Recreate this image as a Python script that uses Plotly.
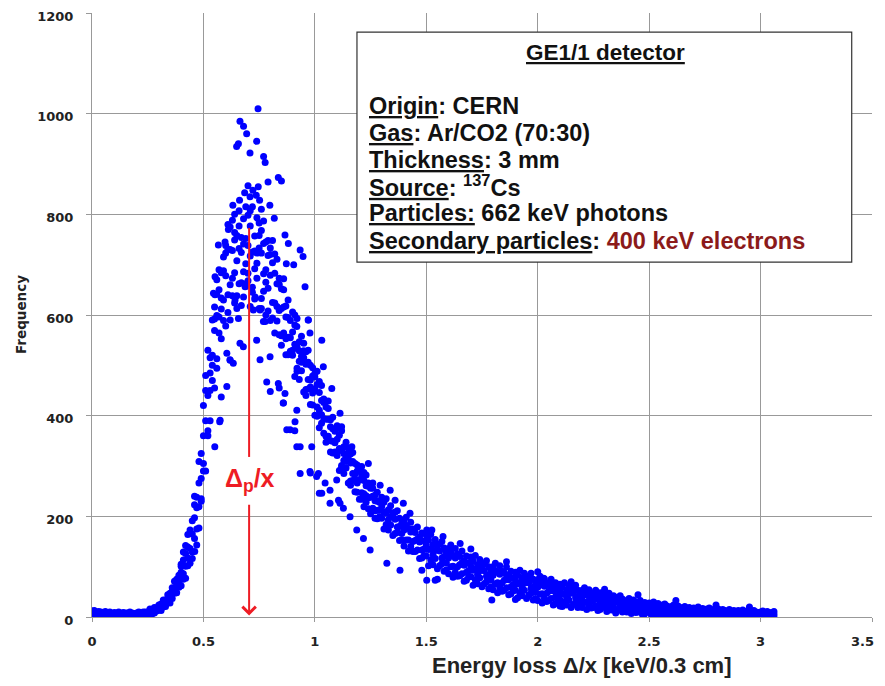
import plotly.graph_objects as go

# ---------------- data ----------------
energy = [
 0.00,0.01,0.02,0.03,0.04,0.05,0.06,0.07,0.08,0.09,
 0.10,0.11,0.12,0.13,0.14,0.15,0.16,0.17,0.18,0.19,
 0.20,0.21,0.22,0.23,0.24,0.25,0.26,0.27,0.28,0.29,
 0.30,0.31,0.32,0.33,0.34,0.35,0.36,0.37,0.38,0.39,
 0.40,0.41,0.42,0.43,0.44,0.45,0.46,0.47,0.48,0.49,
 0.50,0.51,0.52,0.53,0.54,0.55,0.56,0.57,0.58,0.59,
 0.60,0.61,0.62,0.63,0.64,0.65,0.66,0.67,0.68,0.69,
 0.70,0.71,0.72,0.73,0.74,0.75,0.76,0.77,0.78,0.79,
 0.80,0.81,0.82,0.83,0.84,0.85,0.86,0.87,0.88,0.89,
 0.90,0.91,0.92,0.93,0.94,0.95,0.96,0.97,0.98,0.99,
 1.00,1.01,1.02,1.03,1.04,1.05,1.06,1.07,1.08,1.09,
 1.10,1.11,1.12,1.13,1.14,1.15,1.16,1.17,1.18,1.19,
 1.20,1.21,1.22,1.23,1.24,1.25,1.26,1.27,1.28,1.29,
 1.30,1.31,1.32,1.33,1.34,1.35,1.36,1.37,1.38,1.39,
 1.40,1.41,1.42,1.43,1.44,1.45,1.46,1.47,1.48,1.49,
 1.50,1.51,1.52,1.53,1.54,1.55,1.56,1.57,1.58,1.59,
 1.60,1.61,1.62,1.63,1.64,1.65,1.66,1.67,1.68,1.69,
 1.70,1.71,1.72,1.73,1.74,1.75,1.76,1.77,1.78,1.79,
 1.80,1.81,1.82,1.83,1.84,1.85,1.86,1.87,1.88,1.89,
 1.90,1.91,1.92,1.93,1.94,1.95,1.96,1.97,1.98,1.99,
 2.00,2.01,2.02,2.03,2.04,2.05,2.06,2.07,2.08,2.09,
 2.10,2.11,2.12,2.13,2.14,2.15,2.16,2.17,2.18,2.19,
 2.20,2.21,2.22,2.23,2.24,2.25,2.26,2.27,2.28,2.29,
 2.30,2.31,2.32,2.33,2.34,2.35,2.36,2.37,2.38,2.39,
 2.40,2.41,2.42,2.43,2.44,2.45,2.46,2.47,2.48,2.49,
 2.50,2.51,2.52,2.53,2.54,2.55,2.56,2.57,2.58,2.59,
 2.60,2.61,2.62,2.63,2.64,2.65,2.66,2.67,2.68,2.69,
 2.70,2.71,2.72,2.73,2.74,2.75,2.76,2.77,2.78,2.79,
 2.80,2.81,2.82,2.83,2.84,2.85,2.86,2.87,2.88,2.89,
 2.90,2.91,2.92,2.93,2.94,2.95,2.96,2.97,2.98,2.99,
 3.00,3.01,3.02,3.03,3.04,3.05,3.06,
]

freq_low = [
 4,6,3,4,6,3,7,1,4,7,
 3,0,5,1,3,8,2,4,1,7,
 1,3,0,3,6,4,11,6,12,18,
 14,13,26,21,30,47,37,53,48,83,
 62,86,77,102,136,129,197,143,219,325,
 290,290,440,390,470,592,513,596,553,688,
 578,640,590,638,684,638,732,619,686,752,
 668,617,725,632,673,758,633,682,600,718,
 589,625,564,588,609,559,616,521,556,589,
 520,478,537,472,489,529,452,472,422,479,
 401,417,376,385,394,359,393,328,349,369,
 321,291,331,285,296,326,270,285,249,290,
 234,247,219,228,237,213,240,196,212,228,
 196,175,206,173,183,207,166,179,152,186,
 141,153,131,140,150,130,155,116,133,151,
 121,102,135,104,116,143,102,117,91,129,
 86,100,79,89,100,82,108,71,89,108,
 80,63,95,66,78,104,66,81,56,93,
 54,66,48,59,68,53,78,44,60,78,
 53,38,68,42,53,77,43,57,34,68,
 33,45,28,37,47,33,55,24,40,56,
 34,21,46,24,34,54,25,38,19,48,
 19,29,15,22,31,19,37,13,26,38,
 21,11,31,14,21,37,14,23,10,31,
 10,16,7,12,18,10,22,5,14,23,
 11,4,18,6,11,22,6,13,3,19,
 3,9,2,5,10,4,13,1,8,14,
 5,0,11,2,6,14,3,8,1,12,
 1,5,0,3,6,1,9,0,5,10,
 4,0,8,1,4,10,1,5,0,9,
 1,4,0,2,4,1,6,
]

freq_mid = [
 10,10,6,8,10,7,3,8,2,4,
 9,5,2,7,6,1,6,3,8,4,
 6,8,4,8,10,8,7,14,8,15,
 24,21,20,34,36,28,51,47,75,69,
 89,113,101,139,173,165,156,238,177,275,
 420,390,370,515,520,455,599,564,684,630,
 678,730,660,728,764,708,662,754,636,702,
 798,717,655,757,723,613,723,647,745,653,
 679,704,624,662,673,613,564,618,521,555,
 606,542,494,547,518,447,502,453,500,445,
 453,462,411,430,433,393,359,392,326,346,
 380,335,301,338,317,266,306,271,305,266,
 272,280,245,261,266,238,216,242,195,212,
 238,208,184,213,199,162,194,168,196,166,
 173,182,153,169,175,152,133,159,117,135,
 163,134,113,144,132,96,131,106,137,108,
 117,128,101,117,125,104,86,112,73,92,
 119,93,74,104,92,60,92,70,100,74,
 83,92,68,85,91,73,58,83,46,64,
 89,66,48,77,67,37,68,47,75,50,
 59,68,46,61,68,51,37,59,27,43,
 65,45,30,54,46,19,47,29,53,32,
 40,47,30,41,48,34,22,41,15,28,
 44,29,18,36,30,11,30,17,36,20,
 24,29,17,25,30,20,11,25,6,16,
 28,17,9,22,18,3,18,8,22,11,
 14,18,10,15,19,12,6,15,2,8,
 18,10,4,14,10,0,11,5,15,6,
 9,12,6,10,13,7,3,10,1,6,
 13,7,3,10,7,0,8,3,10,4,
 7,9,4,8,9,5,2,
]

freq_high = [
 12,13,10,11,3,9,11,6,10,2,
 6,8,10,4,9,6,8,10,5,2,
 8,10,7,10,3,10,16,13,19,12,
 19,26,34,27,44,44,58,71,65,59,
 105,129,126,164,107,191,240,217,309,235,
 360,450,530,450,590,569,641,690,634,589,
 738,780,730,788,624,758,807,724,791,662,
 738,777,815,692,793,733,768,787,690,608,
 733,748,683,711,561,652,672,596,630,528,
 566,580,593,508,558,515,527,530,471,421,
 484,488,446,460,365,417,429,378,397,328,
 353,361,370,311,347,315,324,327,284,248,
 295,299,271,282,215,256,266,231,248,199,
 219,228,235,193,221,199,208,211,180,153,
 192,198,176,188,130,168,179,149,167,122,
 143,153,164,124,154,135,145,150,120,94,
 136,143,122,136,81,120,131,103,121,80,
 101,111,122,84,114,96,106,112,84,60,
 100,107,89,102,51,88,100,74,91,52,
 73,83,93,58,87,70,81,87,59,37,
 74,81,64,76,31,64,75,52,68,33,
 51,59,68,38,62,48,58,63,40,21,
 53,58,44,54,18,44,53,35,48,19,
 34,40,47,24,42,32,39,42,26,11,
 33,37,28,34,9,27,33,20,29,10,
 21,25,30,13,27,19,24,26,15,5,
 21,24,17,22,3,17,21,12,19,4,
 12,16,20,8,17,12,16,18,10,1,
 14,16,11,15,2,11,15,8,13,3,
 8,11,14,6,12,8,11,13,6,1,
 10,12,8,11,0,8,11,
]

# extra readings in the dense rising / peak / falling part (energy 0.40 - 1.29)
extra_energy = energy[40:130]
freq_extra = [
 101,75,142,117,166,116,223,175,266,230,
 305,480,360,485,500,616,494,650,612,715,
 723,605,775,673,749,613,777,664,741,657,
 683,807,645,727,703,783,613,742,665,748,
 720,594,721,617,661,540,650,553,595,524,
 530,600,488,529,506,544,440,506,457,495,
 477,399,468,402,426,347,414,350,374,326,
 328,375,297,325,309,336,262,309,274,302,
 289,234,287,241,260,205,256,211,230,197,
]

# scattered outlying points
scatter_x = [
 0.745,0.664,0.680,0.694,0.649,0.657,0.739,0.709,0.770,0.777,
 0.836,0.850,0.790,0.700,0.746,0.709,0.737,0.722,0.685,0.662,
 0.632,0.752,0.798,0.818,0.866,0.881,0.934,0.947,0.956,0.970,
 0.919,0.905,0.872,0.597,0.612,0.640,0.690,0.760,
 0.560,0.552,0.567,0.545,0.552,0.642,0.657,0.754,0.777,0.687,
 0.732,0.724,0.769,0.664,0.679,0.739,0.754,0.799,0.619,0.605,
 0.634,0.784,0.836,0.840,0.866,0.859,0.575,0.580,0.605,0.620,
 0.800,0.858,0.874,0.919,0.889,0.910,0.919,0.934,0.980,1.020,
 1.008,0.911,0.934,0.986,0.978,1.016,1.046,1.031,1.068,1.106,
 1.128,1.098,1.113,1.068,1.158,1.188,1.218,1.248,1.323,1.382,
 1.502,1.550,1.540,1.480,1.794,2.026,2.070,0.573,0.551,0.461,
 0.971,0.978,1.031,1.038,1.076,1.113,1.120,1.166,1.240,1.293,
 1.338,1.360,1.397,1.427,1.502,1.525,1.575,1.652,1.700,1.860,
 2.000,2.150,2.300,2.450,2.620,2.800,2.950,1.900,2.100,2.350,
]
scatter_y = [
 1010,985,975,960,935,940,945,922,915,903,
 873,866,864,857,855,835,838,848,843,828,
 818,828,818,792,759,742,729,716,656,590,
 577,700,702,745,770,800,815,810,
 670,640,739,643,676,630,593,610,587,656,
 636,610,587,544,537,550,511,517,511,524,
 504,467,464,455,444,425,391,437,458,510,
 448,425,372,411,372,370,338,285,286,246,
 279,388,338,338,289,285,266,246,252,232,
 216,272,226,226,199,173,156,133,107,93,
 73,75,73,93,34,77,67,388,338,130,
 590,564,550,497,454,405,378,338,305,262,
 252,232,226,206,173,173,160,146,135,110,
 90,70,55,44,33,24,20,35,22,8,
]

# most probable energy loss marker
most_probable_x = 0.705
most_probable_top = 773

x_ticks = [0, 0.5, 1, 1.5, 2, 2.5, 3, 3.5]
x_tick_labels = ["0", "0.5", "1", "1.5", "2", "2.5", "3", "3.5"]
y_ticks = [0, 200, 400, 600, 800, 1000, 1200]
y_tick_labels = ["0", "200", "400", "600", "800", "1000", "1200"]

# ---------------- figure ----------------
all_x = energy + energy + energy + extra_energy + scatter_x
all_y = freq_low + freq_mid + freq_high + freq_extra + scatter_y

fig = go.Figure()
fig.add_trace(go.Scatter(
    x=all_x, y=all_y, mode="markers",
    marker=dict(color="#0000ff", size=7, symbol="circle", line=dict(width=0)),
    showlegend=False, hoverinfo="x+y",
))

grid = "#999999"
tick_font = dict(family="DejaVu Sans", size=13, color="#222222", weight="bold")

# the last x label sits at the window edge; it is drawn separately so that it stays inside
shown_x_labels = x_tick_labels[:-1] + [""]

# the page body adds an 8 px margin, so the figure is kept inside the window
fig.update_layout(
    width=869, height=670,
    margin=dict(l=84, r=5, t=5, b=61, autoexpand=False),
    paper_bgcolor="white", plot_bgcolor="white",
    font=dict(family="Liberation Sans, Arial", color="#222222"),
    xaxis=dict(range=[0, 3.5], tickvals=x_ticks, ticktext=shown_x_labels,
               showgrid=True, gridcolor=grid, gridwidth=1, automargin=False,
               showline=True, linecolor=grid, linewidth=1, zeroline=False,
               ticks="outside", ticklen=4, tickcolor=grid,
               tickfont=tick_font, ticklabelstandoff=8, ticklabeloverflow="allow"),
    yaxis=dict(range=[0, 1200], tickvals=y_ticks, ticktext=y_tick_labels,
               showgrid=True, gridcolor=grid, gridwidth=1, automargin=False,
               showline=True, linecolor=grid, linewidth=1, zeroline=False,
               ticks="outside", ticklen=5, tickcolor=grid,
               tickfont=tick_font, ticklabelstandoff=10, ticklabelshift=3,
               ticklabeloverflow="allow"),
)

fig.add_annotation(xref="paper", yref="paper", x=1, y=0, xshift=4, yshift=-24,
                   text="<b>" + x_tick_labels[-1] + "</b>", showarrow=False,
                   xanchor="right", yanchor="middle",
                   font=dict(family="DejaVu Sans", size=13, color="#222222"))

# axis titles
fig.add_annotation(xref="paper", yref="paper", x=0.628, y=-0.081,
                   text="<b>Energy loss Δ/x [keV/0.3 cm]</b>", showarrow=False,
                   xanchor="center", yanchor="middle",
                   font=dict(family="Liberation Sans, Arial", size=22, color="#222222"))
fig.add_annotation(xref="paper", yref="paper", x=-0.091, y=0.5,
                   text="<b>Frequency</b>", showarrow=False, textangle=-90,
                   xanchor="center", yanchor="middle",
                   font=dict(family="DejaVu Sans", size=13.5, color="#222222"))

# info box
fig.add_shape(type="rect", xref="paper", yref="paper",
              x0=0.3397, x1=0.974, y0=0.5877, y1=0.9685,
              line=dict(color="#333333", width=1.2), fillcolor="white", layer="above")
fig.add_annotation(xref="paper", yref="paper", x=0.6577, y=0.935,
                   text="<b><u>GE1/1 detector</u></b>", showarrow=False,
                   xanchor="center", yanchor="middle",
                   font=dict(family="Liberation Sans, Arial", size=22.5, color="#111111"))
box_font = dict(family="Liberation Sans, Arial", size=23.5, color="#111111")
lines = [
    ("<b><u>Origin</u>: CERN</b>", 0.846),
    ("<b><u>Gas</u>: Ar/CO2 (70:30)</b>", 0.801),
    ("<b><u>Thickness</u>: 3 mm</b>", 0.7566),
    ("<b><u>Source</u>: <sup>137</sup>Cs</b>", 0.7136),
    ("<b><u>Particles:</u> 662 keV photons</b>", 0.6689),
    ("<b><u>Secondary particles</u>: <span style='color:#8b1a1a'>400 keV electrons</span></b>", 0.6225),
]
for txt, yy in lines:
    fig.add_annotation(xref="paper", yref="paper", x=0.3526, y=yy, text=txt,
                       showarrow=False, xanchor="left", yanchor="middle", font=box_font)

# most probable value arrow
red = "#ee1c24"
fig.add_shape(type="line", xref="x", yref="y", layer="above",
              x0=most_probable_x, x1=most_probable_x, y0=318, y1=most_probable_top,
              line=dict(color=red, width=2))
fig.add_annotation(xref="x", yref="y", axref="x", ayref="y",
                   x=most_probable_x, y=3, ax=most_probable_x, ay=226,
                   text="", showarrow=True, arrowhead=4, arrowsize=1.3,
                   arrowwidth=2, arrowcolor=red)
fig.add_annotation(xref="x", yref="y", x=most_probable_x + 0.004, y=272,
                   text="<b>Δ<sub>p</sub>/x</b>", showarrow=False,
                   xanchor="center", yanchor="middle",
                   font=dict(family="Liberation Sans, Arial", size=25, color=red))

fig.write_html("out.html")
